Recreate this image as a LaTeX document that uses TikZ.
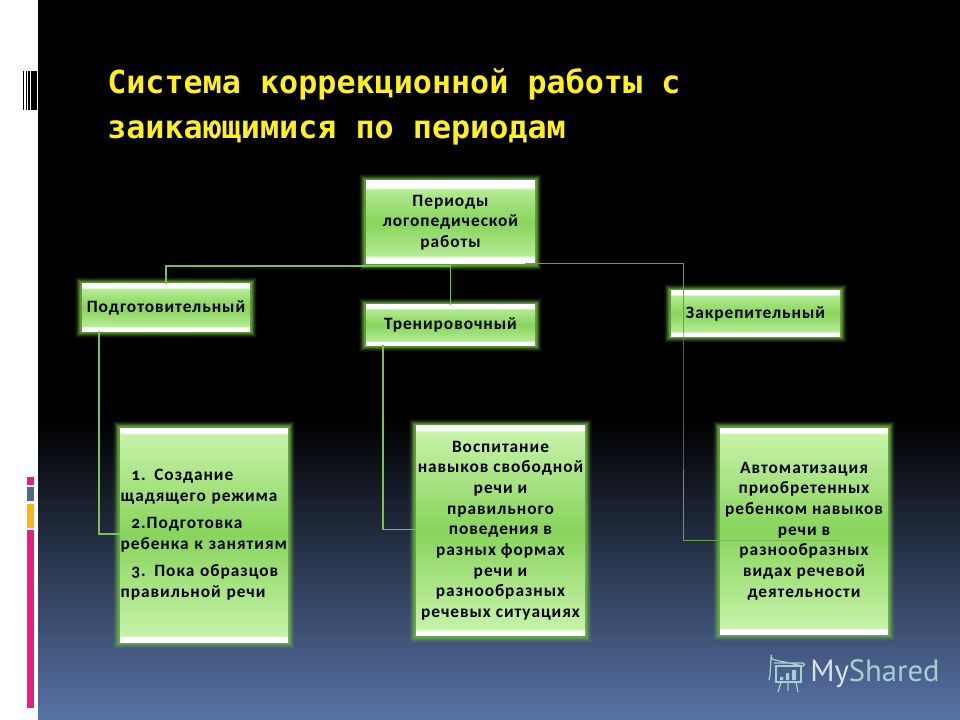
\documentclass[tikz,border=0pt]{standalone}
\usepackage{fontspec}
\setmainfont{Carlito}
\newfontfamily\titlefont{DejaVu Sans Mono}
\newfontfamily\boxfont[LetterSpace=5.5,Numbers=OldStyle]{Carlito}
\newfontfamily\logofont{PT Sans}
\usetikzlibrary{calc}
\pgfdeclarelayer{bglayer}
\pgfsetlayers{bglayer,main}
\definecolor{glowc}{HTML}{72B848}
\definecolor{linkc}{HTML}{7DBE55}
\definecolor{titlec}{HTML}{FFF01E}
\definecolor{boxlight}{HTML}{C6F2A8}
\definecolor{boxfade}{HTML}{B4EA92}
\definecolor{boxmid}{HTML}{88D45C}
\definecolor{logoa}{HTML}{D5E3EC}
\definecolor{logob}{HTML}{A8CDD2}
\definecolor{bgblue}{HTML}{5873A6}
\definecolor{barpink}{HTML}{E61E83}
\definecolor{bargrey}{HTML}{56677F}
\definecolor{baramber}{HTML}{FDB515}
\pgfdeclareverticalshading{bgshade}{100bp}{
  color(0bp)=(bgblue); color(25bp)=(bgblue);
  color(75bp)=(black); color(100bp)=(black)}
\pgfdeclareverticalshading{shortshade}{100bp}{
  color(0bp)=(white); color(28.5bp)=(white); color(30.5bp)=(boxfade);
  color(50bp)=(boxmid); color(69.5bp)=(boxfade); color(71.5bp)=(white); color(100bp)=(white)}
\pgfdeclareverticalshading{tallshade}{100bp}{
  color(0bp)=(white); color(26bp)=(white); color(26.6bp)=(boxlight);
  color(50bp)=(boxmid); color(73.4bp)=(boxlight); color(74bp)=(white); color(100bp)=(white)}
\tikzset{
  glow/.style={
    preaction={draw=glowc,line width=10.5pt,draw opacity=.06},
    preaction={draw=glowc,line width=9pt,draw opacity=.1},
    preaction={draw=glowc,line width=7.5pt,draw opacity=.16},
    preaction={draw=glowc,line width=6pt,draw opacity=.25},
    preaction={draw=glowc,line width=4.5pt,draw opacity=.35},
    preaction={draw=glowc,line width=3pt,draw opacity=.5}},
  boxbase/.style={glow,rectangle,inner sep=0pt,text=black,
    font=\boxfont\bfseries\fontsize{13}{15.5}\selectfont,align=center},
  shortbox/.style={boxbase,shading=shortshade},
  tallbox/.style={boxbase,shading=tallshade},
  titletext/.style={anchor=base west,inner sep=0pt,text=titlec,
    font=\titlefont\bfseries\fontsize{23.8}{23.8}\selectfont},
  link/.style={draw=linkc,line width=1.2pt,line join=miter},
  thinlink/.style={draw=linkc!85!black,line width=.75pt,line join=miter},
  faintlink/.style={draw=linkc!70!black,line width=.65pt,draw opacity=.35}
}
\begin{document}
\begin{tikzpicture}[x=0.75pt,y=-0.75pt]
\useasboundingbox (0,0) rectangle (960,720);
\begin{pgfonlayer}{bglayer}
  \fill[white] (0,0) rectangle (38,720);
  \fill[black] (38,0) rectangle (960,420.5);
  \shade[shading=bgshade] (38,420) rectangle (960,720);
  % barcode mark
  \fill[black] (23,71) rectangle (24,110);
  \fill[black] (25.5,71) rectangle (26.5,110);
  \fill[black] (27.5,71) rectangle (30,110);
  \fill[black] (31,71) rectangle (36.5,110);
  % side bars
  \fill[barpink] (27,477) rectangle (34,485);
  \fill[bargrey] (27,487) rectangle (34,501);
  \fill[baramber] (27,504) rectangle (34,528);
  \fill[barpink] (27,530) rectangle (34,708);
\end{pgfonlayer}

\node[titletext] (t1) at (107,93.5) {Система коррекционной работы с};
\node[titletext] (t2) at (107,138.5) {заикающимися по периодам};

\node[shortbox,minimum width=126.75pt,minimum height=62.25pt] (top) at (450.5,222.5) {Периоды\\логопедической\\работы};
\node[shortbox,minimum width=126pt,minimum height=35.25pt] (prep) at (166,307.5) {Подготовительный};
\node[shortbox,minimum width=126.75pt,minimum height=30pt] (train) at (450.5,325) {Тренировочный};
\node[shortbox,minimum width=126.75pt,minimum height=33.75pt] (fix) at (755.5,313.5) {Закрепительный};

\node[tallbox,text width=125pt,minimum height=160.5pt,outer sep=0pt,inner xsep=.5pt,align=left] (a) at (204,535) {\hspace*{8pt}1. Создание\\щадящего режима\\[5pt]\hspace*{8pt}2.Подготовка\\ребенка к занятиям\\[5pt]\hspace*{8pt}3. Пока образцов\\правильной речи};
\node[tallbox,minimum width=126.75pt,minimum height=157.5pt] (b) at (500.5,530.5) {Воспитание\\навыков свободной\\речи и\\правильного\\поведения в\\разных формах\\речи и\\разнообразных\\речевых ситуациях};
\node[tallbox,minimum width=126pt,minimum height=154.5pt] (c) at (804,531) {Автоматизация\\приобретенных\\ребенком навыков\\речи в\\разнообразных\\видах речевой\\деятельности};

\coordinate (tr) at ($(top.south east)+(-10,-1)$);
\coordinate (vc) at (683,400);
\coordinate (pa) at ($(prep.south west)+(17,0)$);
\coordinate (pb) at ($(train.south west)+(17,0)$);
\coordinate (ja) at ($(a.west)+(0,-1)$);
\coordinate (jb) at ($(b.west)+(0,-1)$);
\coordinate (jc) at ($(c.west)+(0,9)$);
\coordinate (jd) at ($(jc)+(120,0)$);
\draw[link] (top.south) -- ++(0,2) -| (prep.north);
\draw[link] (top.south) -- (train.north);
\draw[thinlink] (tr) -| (vc) |- (jc);
\draw[faintlink] (jc) -- (jd);
\draw[link] (pa) |- (ja);
\draw[link] (pb) |- (jb);

% logo
\begin{scope}[draw=logob,line width=.9pt]
  \draw (774,663) -- (803,663) (803,663) arc (-90:90:1.5) -- (775,660) arc (90:200:4) -- (770,675) -- (769,680);
  \draw (776,666) rectangle (801,682);
  \fill[logob] (780,677) rectangle (783,680) (786,673) rectangle (789,680) (792,670) rectangle (796,680);
  \draw (781,682) -- (778,692) (788,682) -- (788,691) (796,682) -- (798,692);
\end{scope}
\node[anchor=west,inner sep=0pt,font=\logofont\fontsize{23}{23}\selectfont] (logo) at (810,674) {\textcolor{logoa}{My}\textcolor{logob}{Shared}};
\end{tikzpicture}
\end{document}
